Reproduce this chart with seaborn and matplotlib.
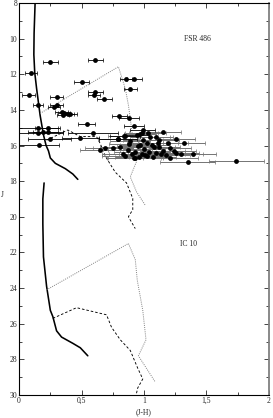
import numpy as np
import pandas as pd
import seaborn as sns
import matplotlib.pyplot as plt
from matplotlib.ticker import MultipleLocator, FixedLocator, FixedFormatter

# --- isochrones (FSR 486 upper, IC 10 lower) ---
fsr_solid_x = [0.128, 0.12, 0.118, 0.125, 0.14, 0.168, 0.195, 0.216, 0.235, 0.25, 0.29, 0.37, 0.43, 0.47]
fsr_solid_y = [8.0, 9.7, 10.9, 11.9, 12.8, 14.3, 15.4, 16.0, 16.3, 16.7, 17.0, 17.3, 17.6, 17.9]
fsr_dot_x = [0.168, 0.795, 0.85, 0.875, 0.89, 0.91, 0.94, 0.89, 0.94, 1.01]
fsr_dot_y = [14.2, 11.58, 12.8, 13.73, 14.48, 15.6, 16.9, 17.76, 18.6, 19.35]
fsr_dash_x = [0.22, 0.39, 0.49, 0.62, 0.65, 0.69, 0.77, 0.86, 0.91, 0.91, 0.875, 0.93]
fsr_dash_y = [15.7, 15.13, 15.5, 15.5, 15.9, 16.6, 17.5, 18.1, 18.97, 19.6, 20.0, 20.66]

ic_solid_x = [0.2, 0.19, 0.19, 0.195, 0.22, 0.25, 0.27, 0.30, 0.34, 0.43, 0.49, 0.55]
ic_solid_y = [18.1, 19.0, 20.4, 22.25, 23.9, 25.25, 25.6, 26.4, 26.75, 27.1, 27.35, 27.8]
ic_dot_x = [0.22, 0.875, 0.93, 0.946, 0.99, 1.016, 0.955, 1.09]
ic_dot_y = [24.1, 21.5, 22.4, 23.56, 25.25, 26.9, 27.8, 29.27]
ic_dash_x = [0.27, 0.46, 0.70, 0.74, 0.81, 0.89, 0.95, 0.99, 0.95, 0.93]
ic_dash_y = [25.7, 25.1, 25.5, 26.2, 26.9, 27.5, 28.5, 29.1, 29.6, 30.2]

# --- stars: (J-H), J, error in (J-H) ---
star_x = [0.25, 0.61, 0.094, 0.50, 0.856, 0.92, 0.89, 0.077, 0.61, 0.60, 0.68,
          0.30, 0.30, 0.28, 0.155, 0.34, 0.36, 0.41, 0.35, 0.39, 0.80, 0.88,
          0.54, 0.92, 0.152, 0.23, 0.152, 0.235, 0.19, 0.59, 0.49, 0.245,
          0.16, 0.99, 0.94, 0.79, 0.85]
star_y = [11.3, 11.2, 11.95, 12.42, 12.29, 12.27, 12.85, 13.19, 13.02, 13.19, 13.38,
          13.3, 13.71, 13.84, 13.75, 14.14, 14.2, 14.22, 14.27, 14.22, 14.33, 14.48,
          14.82, 14.89, 15.04, 15.04, 15.3, 15.23, 15.27, 15.32, 15.6, 15.64,
          15.96, 15.13, 15.42, 15.64, 15.47]
star_err = [0.06, 0.06, 0.05, 0.06, 0.05, 0.06, 0.05, 0.05, 0.06, 0.05, 0.06,
            0.05, 0.05, 0.05, 0.04, 0.05, 0.05, 0.05, 0.05, 0.05, 0.06, 0.08,
            0.07, 0.08, 0.16, 0.10, 0.2, 0.12, 0.12, 0.20, 0.15, 0.17,
            0.16, 0.10, 0.10, 0.15, 0.12]

clump_x = [0.84, 0.97, 1.03, 0.98, 1.15, 1.10, 0.79, 0.89, 0.99, 1.26, 1.32, 1.19,
           1.11, 0.97, 1.06, 0.65, 0.69, 0.75, 0.81, 0.83, 0.87, 0.93, 0.92, 1.01,
           1.21, 1.15, 1.26, 1.30, 1.39, 1.14, 1.02, 0.93, 1.21, 1.35, 1.74,
           1.05, 1.12, 1.08, 0.95, 1.00, 1.04, 1.10, 0.90, 0.98, 1.07, 1.18,
           0.88, 1.02, 1.24, 0.85, 1.12, 0.96]
clump_y = [15.45, 15.36, 15.29, 15.29, 15.23, 15.51, 15.66, 15.75, 15.7, 15.66, 15.88, 15.88,
           15.88, 15.98, 15.98, 16.26, 16.16, 16.16, 16.07, 16.48, 16.26, 16.35, 16.72, 16.54,
           16.16, 16.3, 16.44, 16.48, 16.48, 16.48, 16.58, 16.72, 16.72, 16.95, 16.87,
           15.55, 15.7, 16.1, 16.0, 16.2, 16.35, 16.4, 16.5, 16.45, 16.65, 16.55,
           15.9, 15.85, 16.3, 16.6, 16.1, 16.62]
clump_err = [0.13, 0.13, 0.15, 0.13, 0.15, 0.13, 0.16, 0.16, 0.16, 0.15, 0.17, 0.16,
             0.16, 0.16, 0.15, 0.16, 0.16, 0.16, 0.16, 0.17, 0.16, 0.17, 0.22, 0.19,
             0.17, 0.18, 0.18, 0.17, 0.19, 0.19, 0.18, 0.22, 0.22, 0.22, 0.22,
             0.16, 0.16, 0.17, 0.17, 0.17, 0.17, 0.18, 0.18, 0.18, 0.19, 0.19,
             0.16, 0.16, 0.18, 0.19, 0.17, 0.19]

xtick_vals = [0, 0.5, 1, 1.5, 2]
xtick_labels = ["0", "0,5", "1", "1,5", "2"]

sns.set_theme(style="ticks")
plt.rcParams['font.family'] = ['Liberation Serif', 'DejaVu Serif']

fig = plt.figure(figsize=(2.73, 4.18), dpi=100)
ax = fig.add_axes([0.07, 0.055, 0.915, 0.938])

def curve(x, y, ls, lw, color):
    d = pd.DataFrame({"x": x, "y": y})
    sns.lineplot(data=d, x="x", y="y", sort=False, estimator=None, ax=ax,
                 linestyle=ls, linewidth=lw, color=color)

curve(fsr_solid_x, fsr_solid_y, "-", 1.15, "black")
curve(ic_solid_x, ic_solid_y, "-", 1.15, "black")
curve(fsr_dot_x, fsr_dot_y, (0, (1, 1.2)), 0.7, "0.5")
curve(ic_dot_x, ic_dot_y, (0, (1, 1.2)), 0.7, "0.5")
curve(fsr_dash_x, fsr_dash_y, (0, (2.8, 2.2)), 0.65, "black")
curve(ic_dash_x, ic_dash_y, (0, (2.8, 2.2)), 0.65, "black")

ax.errorbar(clump_x, clump_y, xerr=clump_err, fmt="none", ecolor="0.45",
            elinewidth=0.7, capsize=1.2, capthick=0.5, zorder=3)
ax.errorbar(star_x, star_y, xerr=star_err, fmt="none", ecolor="black",
            elinewidth=0.6, capsize=1.2, capthick=0.5, zorder=3)

pts = pd.DataFrame({"x": star_x + clump_x, "y": star_y + clump_y})
sns.scatterplot(data=pts, x="x", y="y", ax=ax, color="black", s=12,
                edgecolor="black", linewidth=0, zorder=4)

ax.text(1.43, 10.0, "FSR 486", fontsize=5.5, ha="center", va="center")
ax.text(1.36, 21.5, "IC 10", fontsize=5.5, ha="center", va="center")

ax.set_xlim(0, 2)
ax.set_ylim(30, 8)
ax.xaxis.set_major_locator(FixedLocator(xtick_vals))
ax.xaxis.set_major_formatter(FixedFormatter(xtick_labels))
ax.xaxis.set_minor_locator(MultipleLocator(0.25))
ax.yaxis.set_major_locator(MultipleLocator(2))
ax.yaxis.set_minor_locator(MultipleLocator(1))
ax.tick_params(which="both", direction="in", top=True, right=True,
               labelsize=5.5, width=0.6, pad=1.5)
ax.tick_params(which="major", length=3.5)
ax.tick_params(which="minor", length=2)
ax.set_xlabel("(J-H)", fontsize=5.5, labelpad=2)
ax.set_ylabel("J", fontsize=5.5, rotation=0, labelpad=5)
for s in ax.spines.values():
    s.set_linewidth(0.8)
    s.set_color("black")
ax.spines["right"].set_color("0.5")
ax.spines["right"].set_linewidth(1.3)

fig.savefig("out.png", dpi=100)
